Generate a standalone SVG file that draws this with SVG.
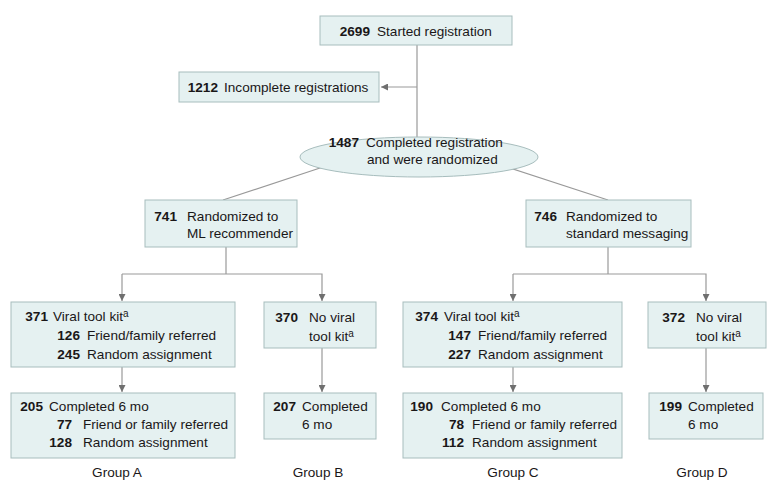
<svg xmlns="http://www.w3.org/2000/svg" width="780" height="499" viewBox="0 0 780 499">
<style>
.box{fill:#e5f1f1;stroke:#a7bdbd;stroke-width:1}
.ln{fill:none;stroke:#999999;stroke-width:1.2}
text{font-family:"Liberation Sans",Arial,sans-serif;font-size:13.6px;fill:#1a1718}
.n{font-weight:bold;text-anchor:end}
.sup{font-size:10px}
.g{text-anchor:middle}
</style>
<defs>
<marker id="ah" viewBox="0 0 10 10" refX="10" refY="5" markerWidth="7" markerHeight="7" markerUnits="userSpaceOnUse" orient="auto">
<path d="M0,0 L10,5 L0,10 z" fill="#6f6f6f"/>
</marker>
</defs>
<rect width="780" height="499" fill="#ffffff"/>
<g id="connectors">
<line class="ln" x1="417" y1="45" x2="417" y2="137"/>
<line class="ln" x1="417" y1="87" x2="381" y2="87" marker-end="url(#ah)"/>
<line class="ln" x1="323" y1="167" x2="223" y2="200"/>
<line class="ln" x1="507" y1="167" x2="608" y2="200"/>
<polyline class="ln" points="226,247 226,274"/>
<polyline class="ln" points="122,274 322,274 322,301" marker-end="url(#ah)"/>
<line class="ln" x1="122" y1="274" x2="122" y2="301" marker-end="url(#ah)"/>
<polyline class="ln" points="608,247 608,274"/>
<polyline class="ln" points="513,274 706,274 706,301" marker-end="url(#ah)"/>
<line class="ln" x1="513" y1="274" x2="513" y2="301" marker-end="url(#ah)"/>
<line class="ln" x1="122" y1="367" x2="122" y2="392" marker-end="url(#ah)"/>
<line class="ln" x1="322" y1="348" x2="322" y2="392" marker-end="url(#ah)"/>
<line class="ln" x1="513" y1="367" x2="513" y2="392" marker-end="url(#ah)"/>
<line class="ln" x1="706" y1="348" x2="706" y2="392" marker-end="url(#ah)"/>
</g>
<g id="started">
<rect class="box" x="320" y="16" width="192" height="29"/>
<text class="n" x="370" y="36">2699</text><text x="377" y="36">Started registration</text>
</g>
<g id="incomplete">
<rect class="box" x="179" y="72" width="200" height="30"/>
<text class="n" x="218" y="92">1212</text><text x="224" y="92">Incomplete registrations</text>
</g>
<g id="randomized">
<ellipse class="box" cx="419" cy="157" rx="119" ry="20"/>
<text class="n" x="359" y="147">1487</text><text x="366" y="147">Completed registration</text>
<text x="367" y="164">and were randomized</text>
</g>
<g id="ml">
<rect class="box" x="145" y="200" width="152" height="47"/>
<text class="n" x="177" y="221">741</text><text x="187" y="221">Randomized to</text>
<text x="187" y="238">ML recommender</text>
</g>
<g id="standard">
<rect class="box" x="526" y="200" width="165" height="47"/>
<text class="n" x="557" y="221">746</text><text x="566" y="221">Randomized to</text>
<text x="566" y="238">standard messaging</text>
</g>
<g id="a1">
<rect class="box" x="11" y="302" width="224" height="65"/>
<text class="n" x="48" y="321">371</text><text x="53" y="321">Viral tool kit<tspan class="sup" dy="-4">a</tspan></text>
<text class="n" x="80" y="340">126</text><text x="87" y="340">Friend/family referred</text>
<text class="n" x="80" y="359">245</text><text x="87" y="359">Random assignment</text>
</g>
<g id="b1">
<rect class="box" x="264" y="302" width="112" height="46"/>
<text class="n" x="298" y="322">370</text><text x="309" y="322">No viral</text>
<text x="309" y="341">tool kit<tspan class="sup" dy="-4">a</tspan></text>
</g>
<g id="c1">
<rect class="box" x="403" y="302" width="219" height="65"/>
<text class="n" x="438" y="321">374</text><text x="444" y="321">Viral tool kit<tspan class="sup" dy="-4">a</tspan></text>
<text class="n" x="471" y="340">147</text><text x="478" y="340">Friend/family referred</text>
<text class="n" x="471" y="359">227</text><text x="478" y="359">Random assignment</text>
</g>
<g id="d1">
<rect class="box" x="648" y="302" width="118" height="46"/>
<text class="n" x="685" y="322">372</text><text x="696" y="322">No viral</text>
<text x="696" y="341">tool kit<tspan class="sup" dy="-4">a</tspan></text>
</g>
<g id="a2">
<rect class="box" x="11" y="393" width="224" height="65"/>
<text class="n" x="43" y="411">205</text><text x="49" y="411">Completed 6 mo</text>
<text class="n" x="72" y="429">77</text><text x="83" y="429">Friend or family referred</text>
<text class="n" x="72" y="447">128</text><text x="83" y="447">Random assignment</text>
</g>
<g id="b2">
<rect class="box" x="264" y="393" width="112" height="46"/>
<text class="n" x="296" y="411">207</text><text x="302" y="411">Completed</text>
<text x="302" y="429">6 mo</text>
</g>
<g id="c2">
<rect class="box" x="403" y="393" width="219" height="65"/>
<text class="n" x="433" y="411">190</text><text x="441" y="411">Completed 6 mo</text>
<text class="n" x="464" y="429">78</text><text x="472" y="429">Friend or family referred</text>
<text class="n" x="464" y="447">112</text><text x="472" y="447">Random assignment</text>
</g>
<g id="d2">
<rect class="box" x="649" y="393" width="114" height="46"/>
<text class="n" x="682" y="411">199</text><text x="688" y="411">Completed</text>
<text x="688" y="429">6 mo</text>
</g>
<g id="labels">
<text class="g" x="117" y="477">Group A</text>
<text class="g" x="318" y="477">Group B</text>
<text class="g" x="513" y="477">Group C</text>
<text class="g" x="702" y="477">Group D</text>
</g>
</svg>
